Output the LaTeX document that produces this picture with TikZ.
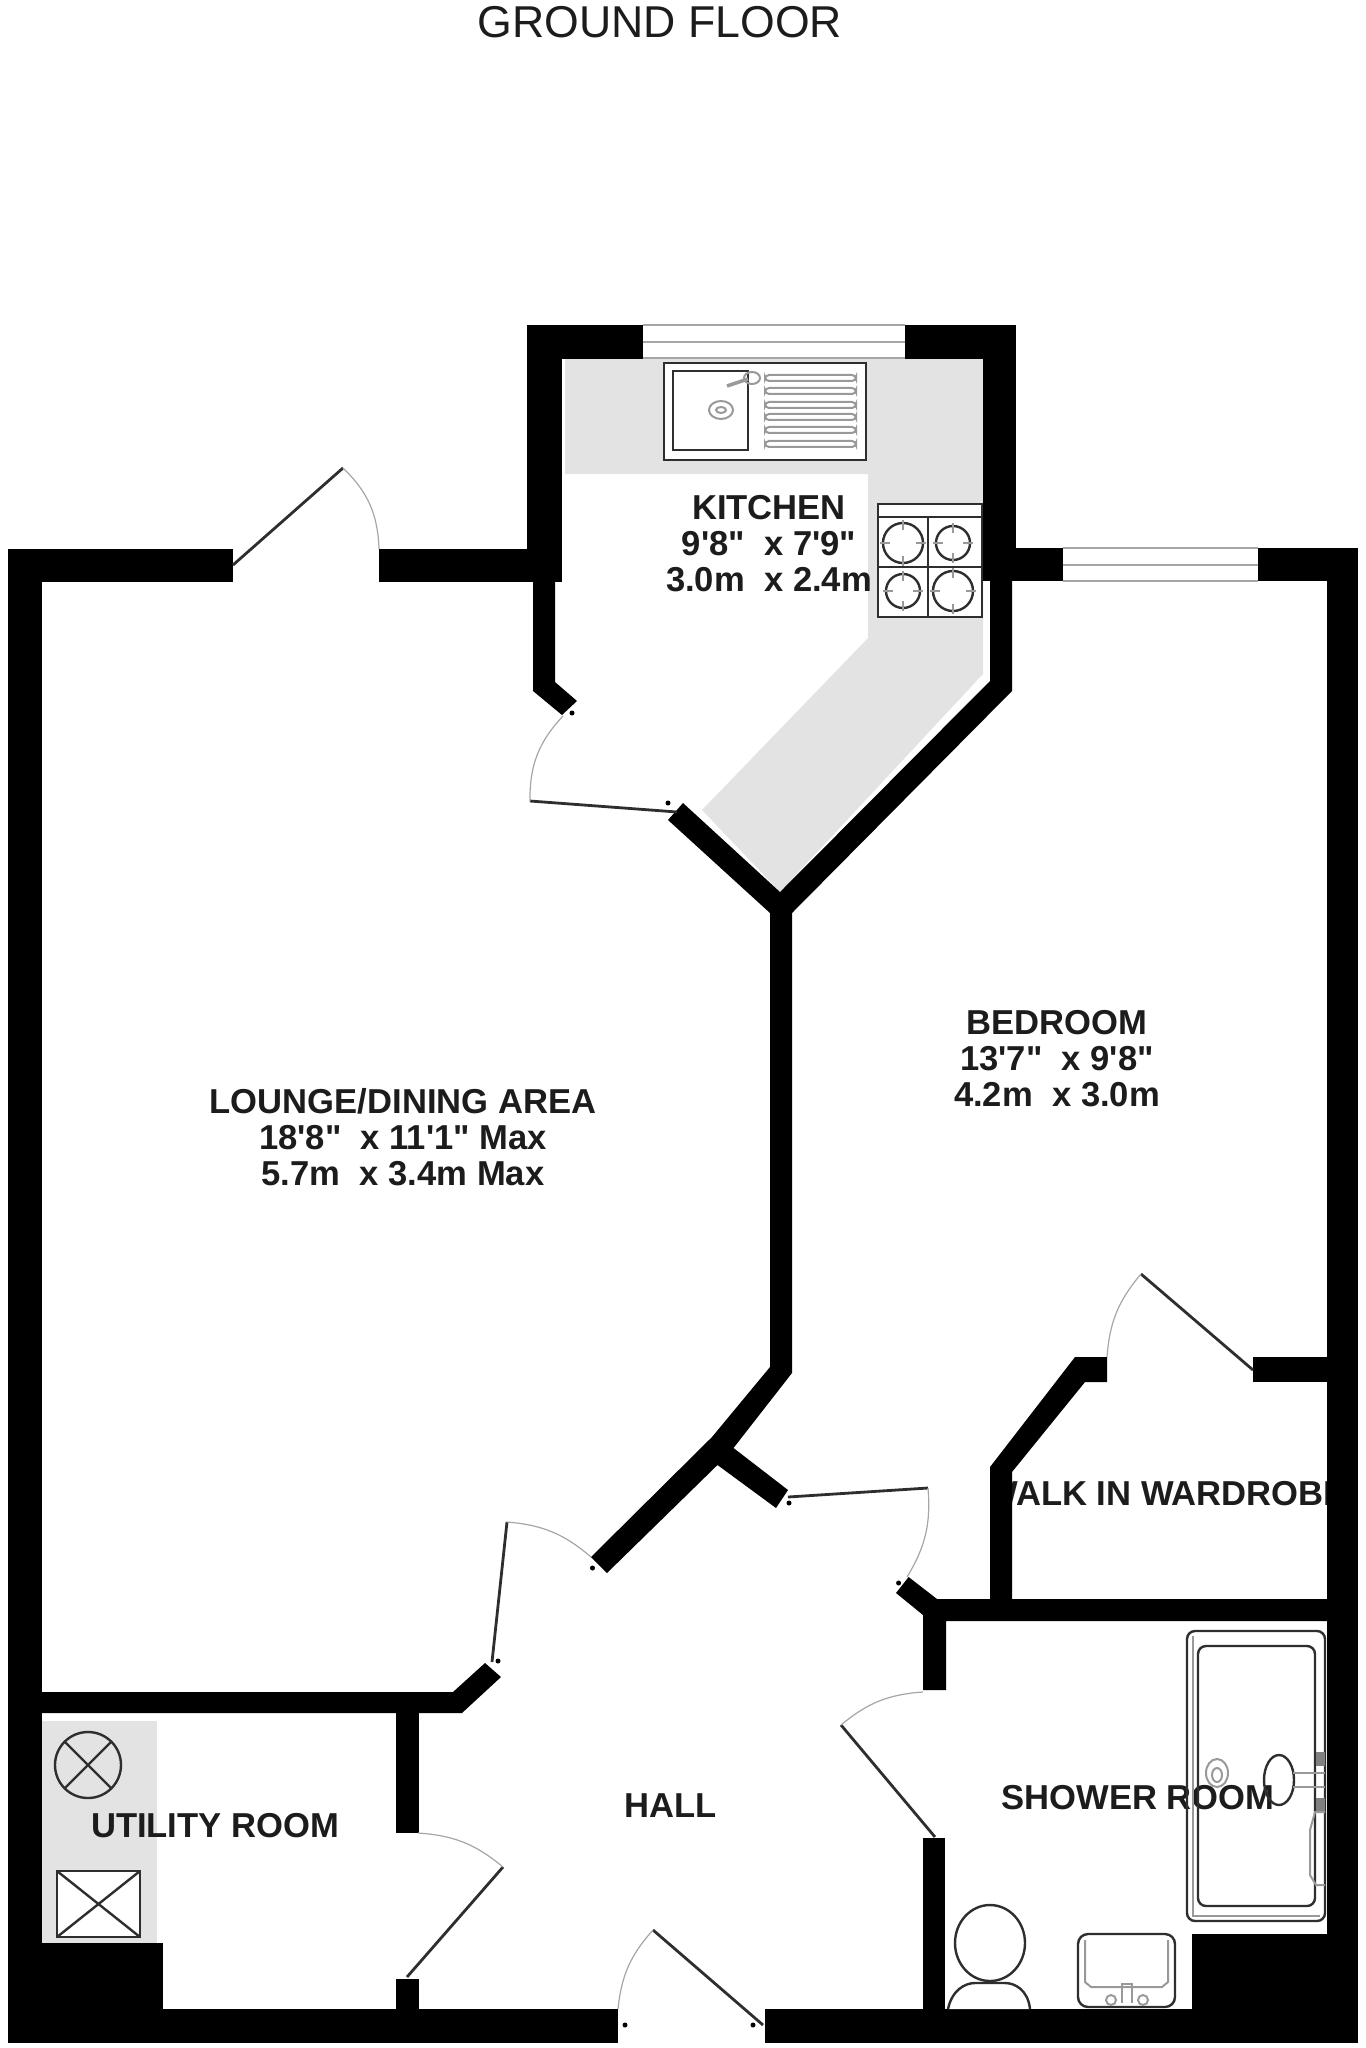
\documentclass[tikz,border=0pt]{standalone}
\usepackage{fontspec}
\setmainfont{Liberation Sans}[Ligatures=TeXOff]
\usepackage{tikz}
\definecolor{counter}{HTML}{E3E3E3}
\definecolor{fitting}{HTML}{2E2E2E}
\definecolor{ink}{HTML}{1C1C1C}
\tikzset{
  wall/.style={fill=black,draw=none},
  leaf/.style={draw=fitting,line width=1.4pt},
  swing/.style={draw=gray!70,line width=0.6pt},
  fit/.style={draw=fitting,line width=1.2pt},
  thinfit/.style={draw=gray!80,line width=1pt},
  glazing/.style={draw=gray!70,line width=1pt},
  roomname/.style={font=\bfseries\fontsize{17.3}{18}\selectfont,text=ink,align=center,inner sep=0pt}
}
\begin{document}
\begin{tikzpicture}[x=0.5pt,y=-0.5pt]
\useasboundingbox (0,0) rectangle (1365,2048);

\fill[counter] (565,359) -- (983,359) -- (983,674) -- (780,892) -- (702,810) -- (868,638) -- (868,474) -- (565,474) -- cycle;
\fill[counter] (42,1721) rectangle (157,1943);

\node[font=\fontsize{22.3}{24}\selectfont,text=ink,inner sep=0pt] (title) at (660,22) {GROUND FLOOR};
\node[roomname] (kitchen) at (769,544) {KITCHEN\\9'8"\ \ x 7'9"\\3.0m\ \ x 2.4m};
\node[roomname] (lounge) at (403,1137) {LOUNGE/DINING AREA\\18'8"\ \ x 11'1" Max\\5.7m\ \ x 3.4m Max};
\node[roomname] (bedroom) at (1057,1059) {BEDROOM\\13'7"\ \ x 9'8"\\4.2m\ \ x 3.0m};
\begin{scope}
  \clip (1000,1470) rectangle (1327,1520);
  \node[roomname] (wardrobe) at (1166,1494) {WALK IN WARDROBE};
\end{scope}
\node[roomname] (hall) at (671,1806) {HALL};
\node[roomname] (utility) at (215,1826) {UTILITY ROOM};

\foreach \a/\b/\c/\d in {8/549/42/2043, 8/2009/618/2043, 765/2009/1358/2043, 1327/549/1358/2043,
    8/549/233/582, 379/549/562/582, 1013/548/1063/581, 1258/548/1358/581,
    527/325/643/359, 905/325/1016/359, 527/325/562/581, 983/325/1016/581,
    396/1713/419/1833, 396/1979/419/2010, 42/1943/163/2010,
    923/1838/945/2010, 1253/1357/1327/1382, 1192/1934/1327/2010}
  \fill[wall] (\a,\b) rectangle (\c,\d);

\fill[wall] (533,581) -- (555,581) -- (555,682) -- (577,701) -- (562,715) -- (533,691) -- cycle;
\fill[wall] (990,581) -- (1012,581) -- (1012,691) -- (792,913) -- (792,1373) -- (733.5,1448) -- (788,1490) -- (776,1508) -- (717.5,1465) -- (607,1573) -- (591,1557) -- (712,1437) -- (770,1367) -- (770,913) -- (668,820) -- (683,803) -- (780,892) -- (990,681) -- cycle;
\fill[wall] (42,1692) -- (453,1692) -- (485,1663) -- (501,1677) -- (462,1713) -- (42,1713) -- cycle;
\fill[wall] (908.6,1577) -- (937,1599) -- (1327,1599) -- (1327,1621) -- (946,1621) -- (946,1690) -- (923,1690) -- (923,1615) -- (896,1593) -- cycle;
\fill[wall] (1107,1357) -- (1107,1382) -- (1085,1382) -- (1012,1472) -- (1012,1600) -- (990,1600) -- (990,1467) -- (1075,1357) -- cycle;

\foreach \x/\y/\z in {643/325/905, 1063/548/1258}{
  \fill[white] (\x,\y) rectangle (\z,\y+33);
  \foreach \o in {0,17,33}
    \draw[glazing] (\x,\y+\o) -- (\z,\y+\o);
}

\draw[leaf] (233,565) -- (343,468);
\draw[swing] (343,468) to[bend left=22] (379,549);
\draw[leaf] (677,812) -- (530,801);
\draw[swing] (530,801) to[bend left=22] (563,716);
\draw[leaf] (492,1662) -- (507,1522);
\draw[swing] (507,1522) to[bend left=18] (591,1557);
\draw[leaf] (788,1497) -- (928,1488);
\draw[swing] (928,1488) to[bend left=18] (907,1577);
\draw[leaf] (407,1977) -- (503,1867);
\draw[swing] (503,1867) to[bend right=18] (418,1833);
\draw[leaf] (935,1837) -- (841,1725);
\draw[swing] (841,1725) to[bend left=18] (923,1692);
\draw[leaf] (763,2025) -- (653,1930);
\draw[swing] (653,1930) to[bend right=18] (618,2009);
\draw[leaf] (1253,1370) -- (1141,1274);
\draw[swing] (1141,1274) to[bend right=18] (1107,1357);

\foreach \x/\y in {592.5/1568, 789/1503, 898.6/1583, 498/1661, 572/713, 668/803, 625/2025, 753/2025}
  \fill (\x,\y) circle (2.5);

\draw[fit,fill=white] (664,363) rectangle (866,460);
\draw[fit,fill=white] (673,371) rectangle (748,450);
\foreach \y in {378,391,405,417,430,444}
  \draw[thinfit,rounded corners=2pt] (765,\y-3) rectangle (856,\y+3);
\draw[thinfit] (721,410) ellipse (12 and 9);
\draw[thinfit] (721,410) ellipse (5 and 3);
\draw[thinfit] (752,378) ellipse (8 and 6);
\draw[thinfit,line width=1.8pt] (727,386) -- (748,379);

\draw[fit,fill=white] (878,504) rectangle (982,617);
\draw[fit] (878,517) -- (982,517);
\draw[fit] (928,517) -- (928,617);
\draw[fit] (878,567) -- (982,567);
\foreach \x/\y/\r in {903/543/20, 953/543/17, 903/591/17, 953/591/20}{
  \draw[fit] (\x,\y) circle (\r);
  \draw[thinfit] (\x-\r-3,\y) -- (\x-\r+7,\y);
  \draw[thinfit] (\x+\r+3,\y) -- (\x+\r-7,\y);
  \draw[thinfit] (\x,\y-\r-3) -- (\x,\y-\r+7);
  \draw[thinfit] (\x,\y+\r+3) -- (\x,\y+\r-7);
}

\draw[fit] (88,1765) circle (33);
\draw[fit] (65,1742) -- (111,1788);
\draw[fit] (111,1742) -- (65,1788);
\draw[fit,fill=white] (57,1871) rectangle (140,1937);
\draw[fit] (57,1871) -- (140,1937);
\draw[fit] (140,1871) -- (57,1937);

\node[roomname] (shower) at (1138,1798) {SHOWER ROOM};

\draw[fit,rounded corners=4pt] (1187,1631) rectangle (1325,1921);
\draw[fit,rounded corners=4pt] (1198,1646) rectangle (1315,1906);
\draw[thinfit] (1193,1636) -- (1193,1916) -- (1320,1916);
\draw[thinfit] (1217,1773) ellipse (11 and 14);
\draw[thinfit] (1217,1775) ellipse (5 and 7);
\draw[fit] (1279,1780) ellipse (15 and 25);
\draw[thinfit] (1293,1773) -- (1325,1773);
\draw[thinfit] (1293,1787) -- (1325,1787);
\foreach \y in {1752,1798}
  \fill[gray] (1316,\y) rectangle (1325,\y+14);
\draw[thinfit] (1325,1812) -- (1315,1812) -- (1310,1830) -- (1310,1875) -- (1316,1885) -- (1325,1885);

\draw[fit] (990,1943) ellipse (35 and 38);
\draw[fit,fill=white] (948,2009) .. controls (952,1990) and (965,1983) .. (975,1983) -- (1005,1983) .. controls (1015,1983) and (1028,1990) .. (1030,2009);

\draw[fit,rounded corners=5pt] (1078,1934) rectangle (1175,2007);
\draw[thinfit] (1085,1940) -- (1085,1982) -- (1091,1987) -- (1162,1987) -- (1168,1982) -- (1168,1940);
\draw[thinfit] (1122,2003) -- (1122,1984) -- (1132,1984) -- (1132,2003);
\draw[thinfit] (1111,2000) circle (5);
\draw[thinfit] (1143,2000) circle (5);
\end{tikzpicture}
\end{document}
